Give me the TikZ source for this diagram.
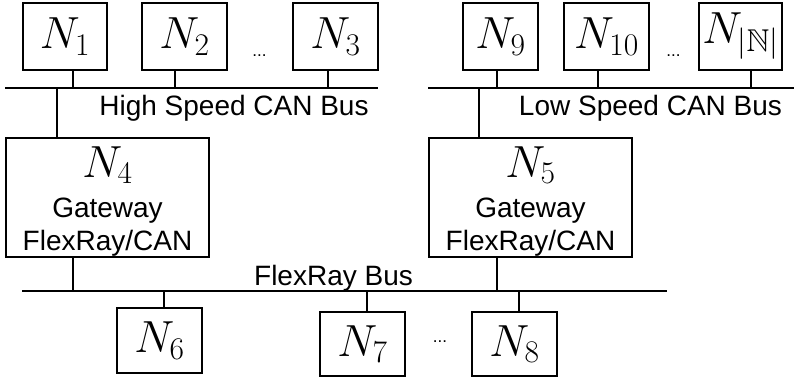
\documentclass[tikz,border=0pt]{standalone}
\usepackage{fix-cm}
\usepackage{fontspec}
\setmainfont{Liberation Sans}
\usepackage{amssymb}
\newcommand\idsize{\fontsize{45}{50}\selectfont}
\newcommand\capsize{\fontsize{28}{30}\selectfont}
\newcommand\dotsize{\fontsize{17}{18}\selectfont}
\tikzset{
  unit/.style={draw, line width=1.1pt, inner sep=0pt, font=\idsize},
  topunit/.style={unit, minimum height=67pt},
  lowunit/.style={unit, minimum height=64pt},
  gateway/.style={unit, minimum width=203pt, minimum height=119pt},
  bus/.style={line width=2.6pt},
  tap/.style={line width=1.1pt},
  caption/.style={font=\capsize, inner sep=0pt, anchor=base},
  ident/.style={font=\idsize, inner sep=0pt, anchor=base},
  gap/.style={font=\dotsize, inner sep=0pt, anchor=base},
}
\begin{document}
\begin{tikzpicture}[x=1pt, y=-1pt]
\useasboundingbox (0,0) rectangle (794,377);

% nodes on the high speed CAN bus
\node[topunit, minimum width=84pt] (n1) at (65,36.5) {$N_1$};
\node[topunit, minimum width=85pt] (n2) at (184.5,36.5) {$N_2$};
\node[topunit, minimum width=85pt] (n3) at (335.5,36.5) {$N_3$};
\node[gap] (d1) at (259.5,57) {...};

% nodes on the low speed CAN bus
\node[topunit, minimum width=75pt] (n9) at (500.5,36.5) {$N_9$};
\node[topunit, minimum width=85pt] (n10) at (606.5,36.5) {$N_{10}$};
\node[topunit, minimum width=83pt] (nN) at (740.5,36.5) {$N_{|\mathbb{N}|}$};
\node[gap] (d2) at (673.5,57) {...};

% gateways
\node[gateway] (n4) at (107.5,197.5) {};
\node[ident] (n4id) at (107.5,177) {$N_4$};
\node[caption] (n4a) at (107.5,217) {Gateway};
\node[caption] (n4b) at (107.5,250) {FlexRay/CAN};

\node[gateway] (n5) at (530.5,197.5) {};
\node[ident] (n5id) at (530.5,177) {$N_5$};
\node[caption] (n5a) at (530.5,217) {Gateway};
\node[caption] (n5b) at (530.5,250) {FlexRay/CAN};

% nodes on the FlexRay bus
\node[unit, minimum width=85pt, minimum height=65pt] (n6) at (159.5,340.5) {$N_6$};
\node[lowunit, minimum width=85pt] (n7) at (362.5,344) {$N_7$};
\node[lowunit, minimum width=85pt] (n8) at (514.5,344) {$N_8$};
\node[gap] (d3) at (440,342) {...};

% bus labels
\node[caption] (hsl) at (234,115) {High Speed CAN Bus};
\node[caption] (lsl) at (650.5,115) {Low Speed CAN Bus};
\node[caption] (frl) at (333.5,285) {FlexRay Bus};

% bus lines
\coordinate (hsL) at (5,88);   \coordinate (hsR) at (378,88);
\coordinate (lsL) at (428,88); \coordinate (lsR) at (794,88);
\coordinate (frL) at (22,291); \coordinate (frR) at (667,291);
\draw[bus] (hsL) -- (hsR);
\draw[bus] (lsL) -- (lsR);
\draw[bus] (frL) -- (frR);

% taps onto the buses
\coordinate (t1) at (73,88);  \coordinate (t2) at (175,88);  \coordinate (t3) at (328,88);
\coordinate (t9) at (497,88); \coordinate (t10) at (598,88); \coordinate (tN) at (751,88);
\coordinate (g4u) at (57,88); \coordinate (g5u) at (479,88);
\coordinate (g4d) at (73,291); \coordinate (g5d) at (497,291);
\coordinate (t6) at (164,291); \coordinate (t7) at (367,291); \coordinate (t8) at (519,291);

\draw[tap] (n1.south -| t1) -- (t1);
\draw[tap] (n2.south -| t2) -- (t2);
\draw[tap] (n3.south -| t3) -- (t3);
\draw[tap] (n9.south -| t9) -- (t9);
\draw[tap] (n10.south -| t10) -- (t10);
\draw[tap] (nN.south -| tN) -- (tN);
\draw[tap] (g4u) -- (n4.north -| g4u);
\draw[tap] (g5u) -- (n5.north -| g5u);
\draw[tap] (n4.south -| g4d) -- (g4d);
\draw[tap] (n5.south -| g5d) -- (g5d);
\draw[tap] (t6) -- (n6.north -| t6);
\draw[tap] (t7) -- (n7.north -| t7);
\draw[tap] (t8) -- (n8.north -| t8);
\end{tikzpicture}
\end{document}
